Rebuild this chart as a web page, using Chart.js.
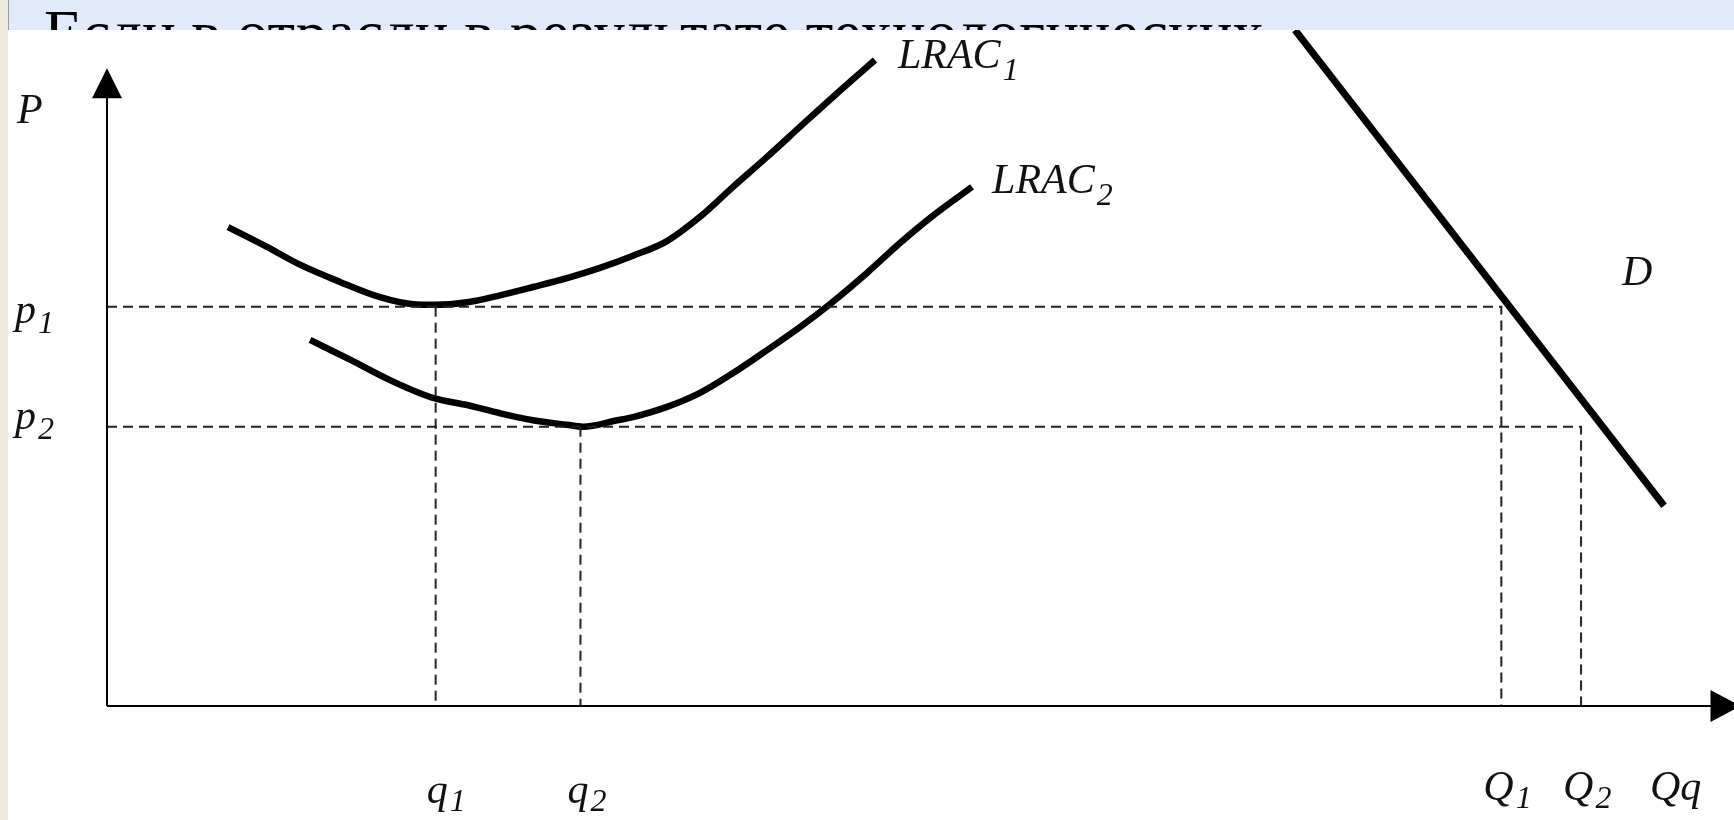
<!DOCTYPE html>
<html lang="ru">
<head>
    <meta charset="UTF-8">
    <title>LRAC</title>
    <style>
        body {
            margin: 0;
            padding: 0;
            background-color: #ece9d8;
            overflow: hidden;
        }
        .sheet {
            position: absolute;
            left: 8px;
            top: 0;
            width: 1726px;
            height: 820px;
            background-color: white;
        }
        .chart-box {
            position: absolute;
            left: 0;
            top: 0;
            width: 1734px;
            height: 820px;
        }
        .header {
            position: absolute;
            left: 8px;
            top: 0;
            width: 1726px;
            height: 30px;
            background-color: #e0eafb;
            border-left: 1px solid #9a9a9a;
            box-sizing: border-box;
            overflow: hidden;
        }
        .header span {
            position: absolute;
            left: 35px;
            top: 2px;
            font: 63px/63px "Liberation Serif", serif;
            color: #000;
            white-space: nowrap;
        }
    </style>
</head>
<body>
    <div class="sheet"></div>
    <div class="chart-box">
        <canvas id="costChart"></canvas>
    </div>
    <div class="header"><span>Если в отрасли в результате технологических</span></div>

    <script src="https://cdn.jsdelivr.net/npm/chart.js"></script>
    <script>
        // curves (x: quantity, y: price, both 0..100 scale)
        const lrac1X = [7.44, 9.83, 11.86, 14.32, 16.78, 18.81, 20.16, 22.13, 24.15, 26.18, 28.27, 30.30, 32.33, 34.42, 36.45, 38.48, 40.57, 42.59, 44.62, 47.20];
        const lrac1Y = [75.1, 72.0, 69.2, 66.5, 64.1, 63.0, 62.9, 63.3, 64.4, 65.7, 67.1, 68.7, 70.6, 72.9, 76.7, 81.4, 86.1, 90.8, 95.5, 101.3];

        const lrac2X = [12.48, 14.94, 17.39, 20.04, 22.13, 24.15, 26.18, 28.27, 29.26, 31.35, 32.33, 34.42, 36.45, 38.48, 40.57, 42.59, 44.62, 46.71, 48.74, 50.77, 53.17];
        const lrac2Y = [57.4, 54.3, 51.1, 48.3, 47.2, 45.9, 44.8, 44.1, 43.8, 44.8, 45.3, 46.9, 49.1, 52.2, 55.8, 59.4, 63.4, 67.9, 72.6, 76.9, 81.4];

        const demandX = [73.02, 95.70];
        const demandY = [106.0, 31.4];

        // equilibrium levels
        const priceLevels = { p1: 62.6, p2: 43.8 };
        const firmQty = { q1: 20.2, q2: 29.1 };
        const marketQty = { Q1: 85.7, Q2: 90.6 };

        const xAxisEnd = 100.4;
        const yAxisEnd = 100;

        function pts(xs, ys) {
            return xs.map((x, i) => ({ x: x, y: ys[i] }));
        }

        const dashStyle = {
            borderColor: '#222',
            borderWidth: 2,
            borderDash: [10, 6],
            pointRadius: 0,
            showLine: true,
            fill: false
        };

        const curveStyle = {
            borderColor: '#000',
            borderWidth: 6.5,
            pointRadius: 0,
            showLine: true,
            fill: false,
            cubicInterpolationMode: 'monotone'
        };

        const font = '"Liberation Serif", "Times New Roman", serif';

        function label(ctx, x, y, main, sub, subDy) {
            ctx.font = 'italic 42px ' + font;
            ctx.fillText(main, x, y);
            if (sub) {
                const w = ctx.measureText(main).width;
                ctx.font = 'italic 32px ' + font;
                ctx.fillText(sub, x + w + 2, y + (subDy || 12));
            }
        }

        // axes with arrow heads and the text labels
        const axesPlugin = {
            id: 'axesPlugin',
            afterDatasetsDraw(chart) {
                const ctx = chart.ctx;
                const xs = chart.scales.x;
                const ys = chart.scales.y;
                const x0 = xs.getPixelForValue(0);
                const y0 = ys.getPixelForValue(0);
                const yTip = ys.getPixelForValue(yAxisEnd);
                const xTip = xs.getPixelForValue(xAxisEnd);

                ctx.save();
                ctx.strokeStyle = '#000';
                ctx.fillStyle = '#000';
                ctx.lineWidth = 2;
                ctx.beginPath();
                ctx.moveTo(x0, y0);
                ctx.lineTo(x0, yTip + 28);
                ctx.moveTo(x0, y0);
                ctx.lineTo(xTip - 28, y0);
                ctx.stroke();

                ctx.beginPath();
                ctx.moveTo(x0, yTip);
                ctx.lineTo(x0 - 15, yTip + 30);
                ctx.lineTo(x0 + 15, yTip + 30);
                ctx.closePath();
                ctx.fill();

                ctx.beginPath();
                ctx.moveTo(xTip, y0);
                ctx.lineTo(xTip - 30, y0 - 16);
                ctx.lineTo(xTip - 30, y0 + 16);
                ctx.closePath();
                ctx.fill();

                ctx.fillStyle = '#111';
                ctx.textAlign = 'left';
                ctx.textBaseline = 'alphabetic';

                label(ctx, x0 - 90, yTip + 55, 'P');
                label(ctx, x0 - 92, ys.getPixelForValue(priceLevels.p1) + 16, 'p', '1', 10);
                label(ctx, x0 - 92, ys.getPixelForValue(priceLevels.p2) + 2, 'p', '2', 10);

                const qy = y0 + 97;
                label(ctx, xs.getPixelForValue(firmQty.q1) - 9, qy, 'q', '1', 8);
                label(ctx, xs.getPixelForValue(firmQty.q2) - 13, qy, 'q', '2', 8);
                label(ctx, xs.getPixelForValue(marketQty.Q1) - 18, qy - 3, 'Q', '1', 8);
                label(ctx, xs.getPixelForValue(marketQty.Q2) - 18, qy - 3, 'Q', '2', 8);
                label(ctx, xs.getPixelForValue(100) - 84, qy - 3, 'Qq');

                const l1 = lrac1X.length - 1;
                label(ctx, xs.getPixelForValue(lrac1X[l1]) + 23, ys.getPixelForValue(lrac1Y[l1]) + 8, 'LRAC', '1', 12);
                const l2 = lrac2X.length - 1;
                label(ctx, xs.getPixelForValue(lrac2X[l2]) + 20, ys.getPixelForValue(lrac2Y[l2]) + 6, 'LRAC', '2', 12);
                label(ctx, xs.getPixelForValue(demandX[1]) - 42, ys.getPixelForValue(demandY[1]) - 221, 'D');
                ctx.restore();
            }
        };

        const ctx = document.getElementById('costChart').getContext('2d');
        new Chart(ctx, {
            type: 'scatter',
            data: {
                datasets: [
                    Object.assign({ label: 'p1', data: [
                        { x: 0, y: priceLevels.p1 },
                        { x: marketQty.Q1, y: priceLevels.p1 },
                        { x: marketQty.Q1, y: 0 }
                    ] }, dashStyle),
                    Object.assign({ label: 'p2', data: [
                        { x: 0, y: priceLevels.p2 },
                        { x: marketQty.Q2, y: priceLevels.p2 },
                        { x: marketQty.Q2, y: 0 }
                    ] }, dashStyle),
                    Object.assign({ label: 'q1', data: [
                        { x: firmQty.q1, y: priceLevels.p1 },
                        { x: firmQty.q1, y: 0 }
                    ] }, dashStyle),
                    Object.assign({ label: 'q2', data: [
                        { x: firmQty.q2, y: priceLevels.p2 },
                        { x: firmQty.q2, y: 0 }
                    ] }, dashStyle),
                    Object.assign({ label: 'LRAC1', data: pts(lrac1X, lrac1Y) }, curveStyle),
                    Object.assign({ label: 'LRAC2', data: pts(lrac2X, lrac2Y) }, curveStyle),
                    Object.assign({ label: 'D', data: pts(demandX, demandY) }, curveStyle, { borderWidth: 7 })
                ]
            },
            options: {
                responsive: true,
                maintainAspectRatio: false,
                animation: false,
                layout: { padding: { left: 107, right: 0, top: 30, bottom: 114 } },
                plugins: {
                    legend: { display: false },
                    tooltip: { enabled: false }
                },
                scales: {
                    x: { type: 'linear', min: 0, max: 100, display: false },
                    y: { type: 'linear', min: 0, max: 106, display: false }
                }
            },
            plugins: [axesPlugin]
        });
    </script>
</body>
</html>
